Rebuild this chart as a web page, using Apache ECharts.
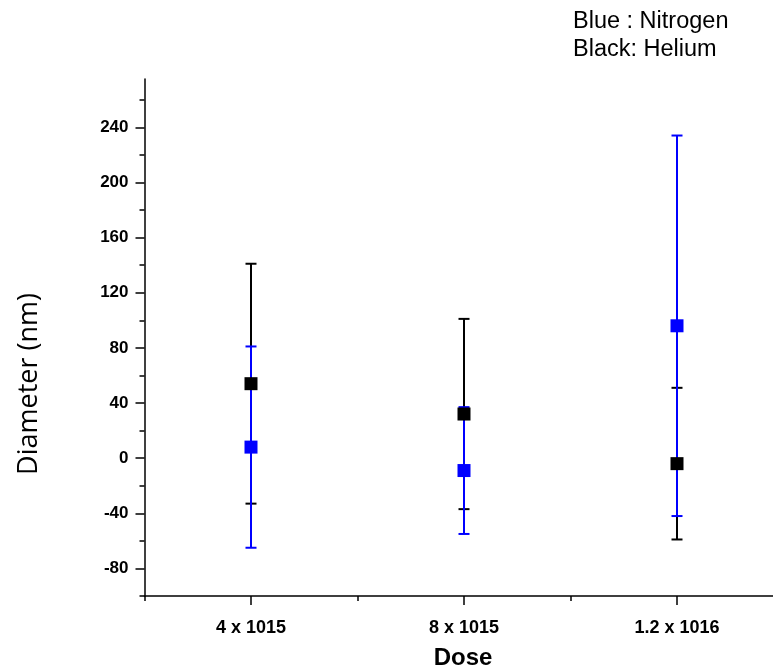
<!DOCTYPE html>
<html>
<head>
<meta charset="utf-8">
<script src="https://cdn.jsdelivr.net/npm/echarts@6/dist/echarts.min.js"></script>
<style>html,body{margin:0;padding:0;background:#fff}#c{width:773px;height:672px}</style>
</head>
<body>
<div id="c"></div>
<script>
const categories = ['4 x 1015', '8 x 1015', '1.2 x 1016'];
const heliumMean = [54, 32, -4];
const heliumErr = [87, 69, 55];
const nitrogenMean = [8, -9, 96];
const nitrogenErr = [73, 46, 138];
const yTickLabels = [-80, -40, 0, 40, 80, 120, 160, 200, 240];
const yMinorTicks = [-100, -60, -20, 20, 60, 100, 140, 180, 220, 260];
const xCatPositions = [0, 1, 2];
const xMinorTicks = [-0.5, 0.5, 1.5];

const FONT = '"Liberation Sans", Arial, sans-serif';

function errData(mean, err) {
  return mean.map((m, i) => [xCatPositions[i], m - err[i], m + err[i]]);
}
function errSeries(mean, err, color) {
  return {
    type: 'custom',
    xAxisIndex: 0, yAxisIndex: 0,
    data: errData(mean, err),
    encode: { x: 0, y: [1, 2] },
    renderItem: function (params, api) {
      const x = api.value(0);
      const lo = api.coord([x, api.value(1)]);
      const hi = api.coord([x, api.value(2)]);
      const hw = 5.5;
      const style = { stroke: color, lineWidth: 2, fill: null };
      return {
        type: 'group',
        children: [
          { type: 'line', shape: { x1: lo[0], y1: lo[1], x2: hi[0], y2: hi[1] }, style: style },
          { type: 'line', shape: { x1: lo[0] - hw, y1: lo[1], x2: lo[0] + hw, y2: lo[1] }, style: style },
          { type: 'line', shape: { x1: hi[0] - hw, y1: hi[1], x2: hi[0] + hw, y2: hi[1] }, style: style }
        ]
      };
    },
    z: 2
  };
}
function markerSeries(mean, color) {
  return {
    type: 'scatter',
    xAxisIndex: 0, yAxisIndex: 0,
    data: mean.map((m, i) => [xCatPositions[i], m]),
    symbol: 'rect',
    symbolSize: 13,
    itemStyle: { color: color, opacity: 1 },
    z: 2
  };
}

const GRID_LEFT = 144.5;
const CAT_STEP = 213;
const xMax = (773 - GRID_LEFT) / CAT_STEP - 0.5;

const chart = echarts.init(document.getElementById('c'), null, { renderer: 'canvas' });
chart.setOption({
  animation: false,
  backgroundColor: '#fff',
  grid: { left: GRID_LEFT, top: 79, right: 0, height: 517, containLabel: false },
  xAxis: [
    {
      type: 'value', min: -0.5, max: xMax,
      axisLine: { onZero: false, lineStyle: { color: '#000', width: 1.5 } },
      axisTick: { length: 9, customValues: xCatPositions, lineStyle: { color: '#000', width: 1.5 } },
      axisLabel: {
        color: '#000', fontFamily: FONT, fontWeight: 'bold', fontSize: 18, margin: 23,
        customValues: xCatPositions,
        formatter: function (v) { return categories[Math.round(v)]; }
      },
      splitLine: { show: false }
    },
    {
      type: 'value', min: -0.5, max: xMax, position: 'bottom',
      axisLine: { show: false, onZero: false },
      axisTick: { length: 5, customValues: xMinorTicks, lineStyle: { color: '#000', width: 1.5 } },
      axisLabel: { show: false, customValues: xMinorTicks },
      splitLine: { show: false }
    }
  ],
  yAxis: [
    {
      type: 'value', min: -100, max: 275,
      axisLine: { show: true, onZero: false, lineStyle: { color: '#000', width: 1.5 } },
      axisTick: { show: true, length: 9, customValues: yTickLabels, lineStyle: { color: '#000', width: 1.5 } },
      axisLabel: { color: '#000', fontFamily: FONT, fontWeight: 'bold', fontSize: 17, margin: 16, customValues: yTickLabels },
      splitLine: { show: false }
    },
    {
      type: 'value', min: -100, max: 275, position: 'left',
      axisLine: { show: false, onZero: false },
      axisTick: { show: true, length: 5, customValues: yMinorTicks, lineStyle: { color: '#000', width: 1.5 } },
      axisLabel: { show: false, customValues: yMinorTicks },
      splitLine: { show: false }
    }
  ],
  graphic: [
    { type: 'text', left: 573, top: 10, style: { text: 'Blue : Nitrogen', fill: '#000', font: '23.5px ' + FONT } },
    { type: 'text', left: 573, top: 38, style: { text: 'Black: Helium', fill: '#000', font: '23.5px ' + FONT } },
    { type: 'text', x: 463, y: 658, style: { text: 'Dose', fill: '#000', font: 'bold 24px ' + FONT, align: 'center', verticalAlign: 'middle' } },
    { type: 'text', x: 29, y: 384, rotation: Math.PI / 2, style: { text: 'Diameter (nm)', fill: '#000', font: '27px "Open Sans", sans-serif', align: 'center', verticalAlign: 'middle' } }
  ],
  series: [
    errSeries(heliumMean, heliumErr, '#000000'),
    markerSeries(heliumMean, '#000000'),
    errSeries(nitrogenMean, nitrogenErr, '#0000ff'),
    markerSeries(nitrogenMean, '#0000ff')
  ]
});
</script>
</body>
</html>
